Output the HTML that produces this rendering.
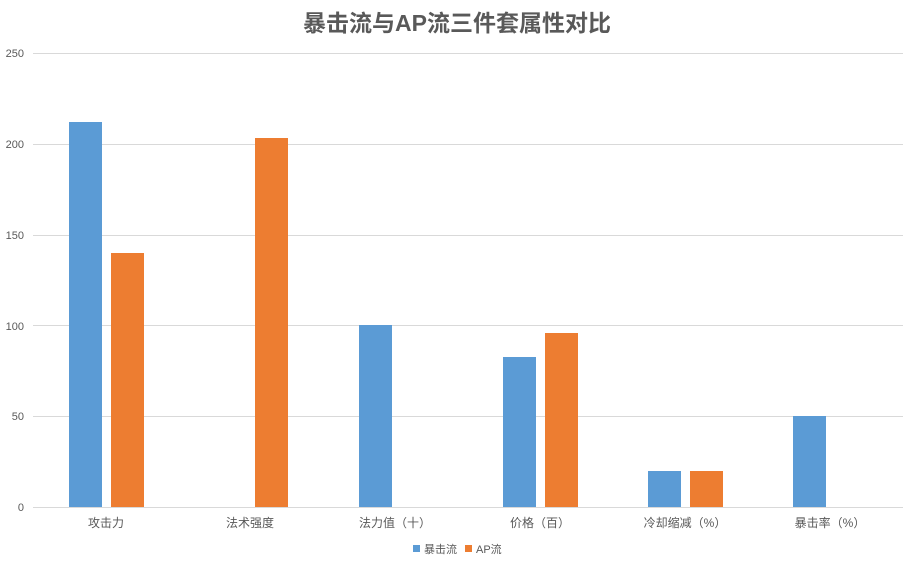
<!DOCTYPE html>
<html><head><meta charset="utf-8"><style>body{margin:0;background:#fff}svg{display:block}text{font-family:"Liberation Sans","Noto Sans CJK SC",sans-serif}</style></head><body>
<svg width="914" height="569" xmlns="http://www.w3.org/2000/svg">
<rect width="914" height="569" fill="#fff"/>
<text x="457" y="31" text-anchor="middle" font-size="23" font-weight="bold" fill="#595959">暴击流与AP流三件套属性对比</text>
<g stroke="#d9d9d9" stroke-width="1">
<line x1="33" x2="903" y1="53.5" y2="53.5"/><line x1="33" x2="903" y1="144.5" y2="144.5"/><line x1="33" x2="903" y1="235.5" y2="235.5"/><line x1="33" x2="903" y1="325.5" y2="325.5"/><line x1="33" x2="903" y1="416.5" y2="416.5"/><line x1="33" x2="903" y1="507.5" y2="507.5"/>
</g>
<g font-size="11" fill="#595959" text-anchor="end">
<text x="24" y="57">250</text><text x="24" y="148">200</text><text x="24" y="239">150</text><text x="24" y="330">100</text><text x="24" y="420">50</text><text x="24" y="511">0</text>
</g>
<g fill="#5b9bd5">
<rect x="69" y="122" width="33" height="385"/>
<rect x="359" y="325" width="33" height="182"/>
<rect x="503" y="357" width="33" height="150"/>
<rect x="648" y="471" width="33" height="36"/>
<rect x="793" y="416" width="33" height="91"/>
</g>
<g fill="#ed7d31">
<rect x="111" y="253" width="33" height="254"/>
<rect x="255" y="138" width="33" height="369"/>
<rect x="545" y="333" width="33" height="174"/>
<rect x="690" y="471" width="33" height="36"/>
</g>
<g font-size="12" fill="#595959" text-anchor="middle">
<text x="106" y="527">攻击力</text><text x="250" y="527">法术强度</text><text x="395" y="527">法力值（十）</text><text x="540" y="527">价格（百）</text><text x="685" y="527">冷却缩减（%）</text><text x="830" y="527">暴击率（%）</text>
</g>
<rect x="413" y="545" width="7" height="7" fill="#5b9bd5"/>
<text x="424" y="553" font-size="11" fill="#595959">暴击流</text>
<rect x="465" y="545" width="7" height="7" fill="#ed7d31"/>
<text x="476" y="553" font-size="11" fill="#595959">AP流</text>
</svg>
</body></html>
